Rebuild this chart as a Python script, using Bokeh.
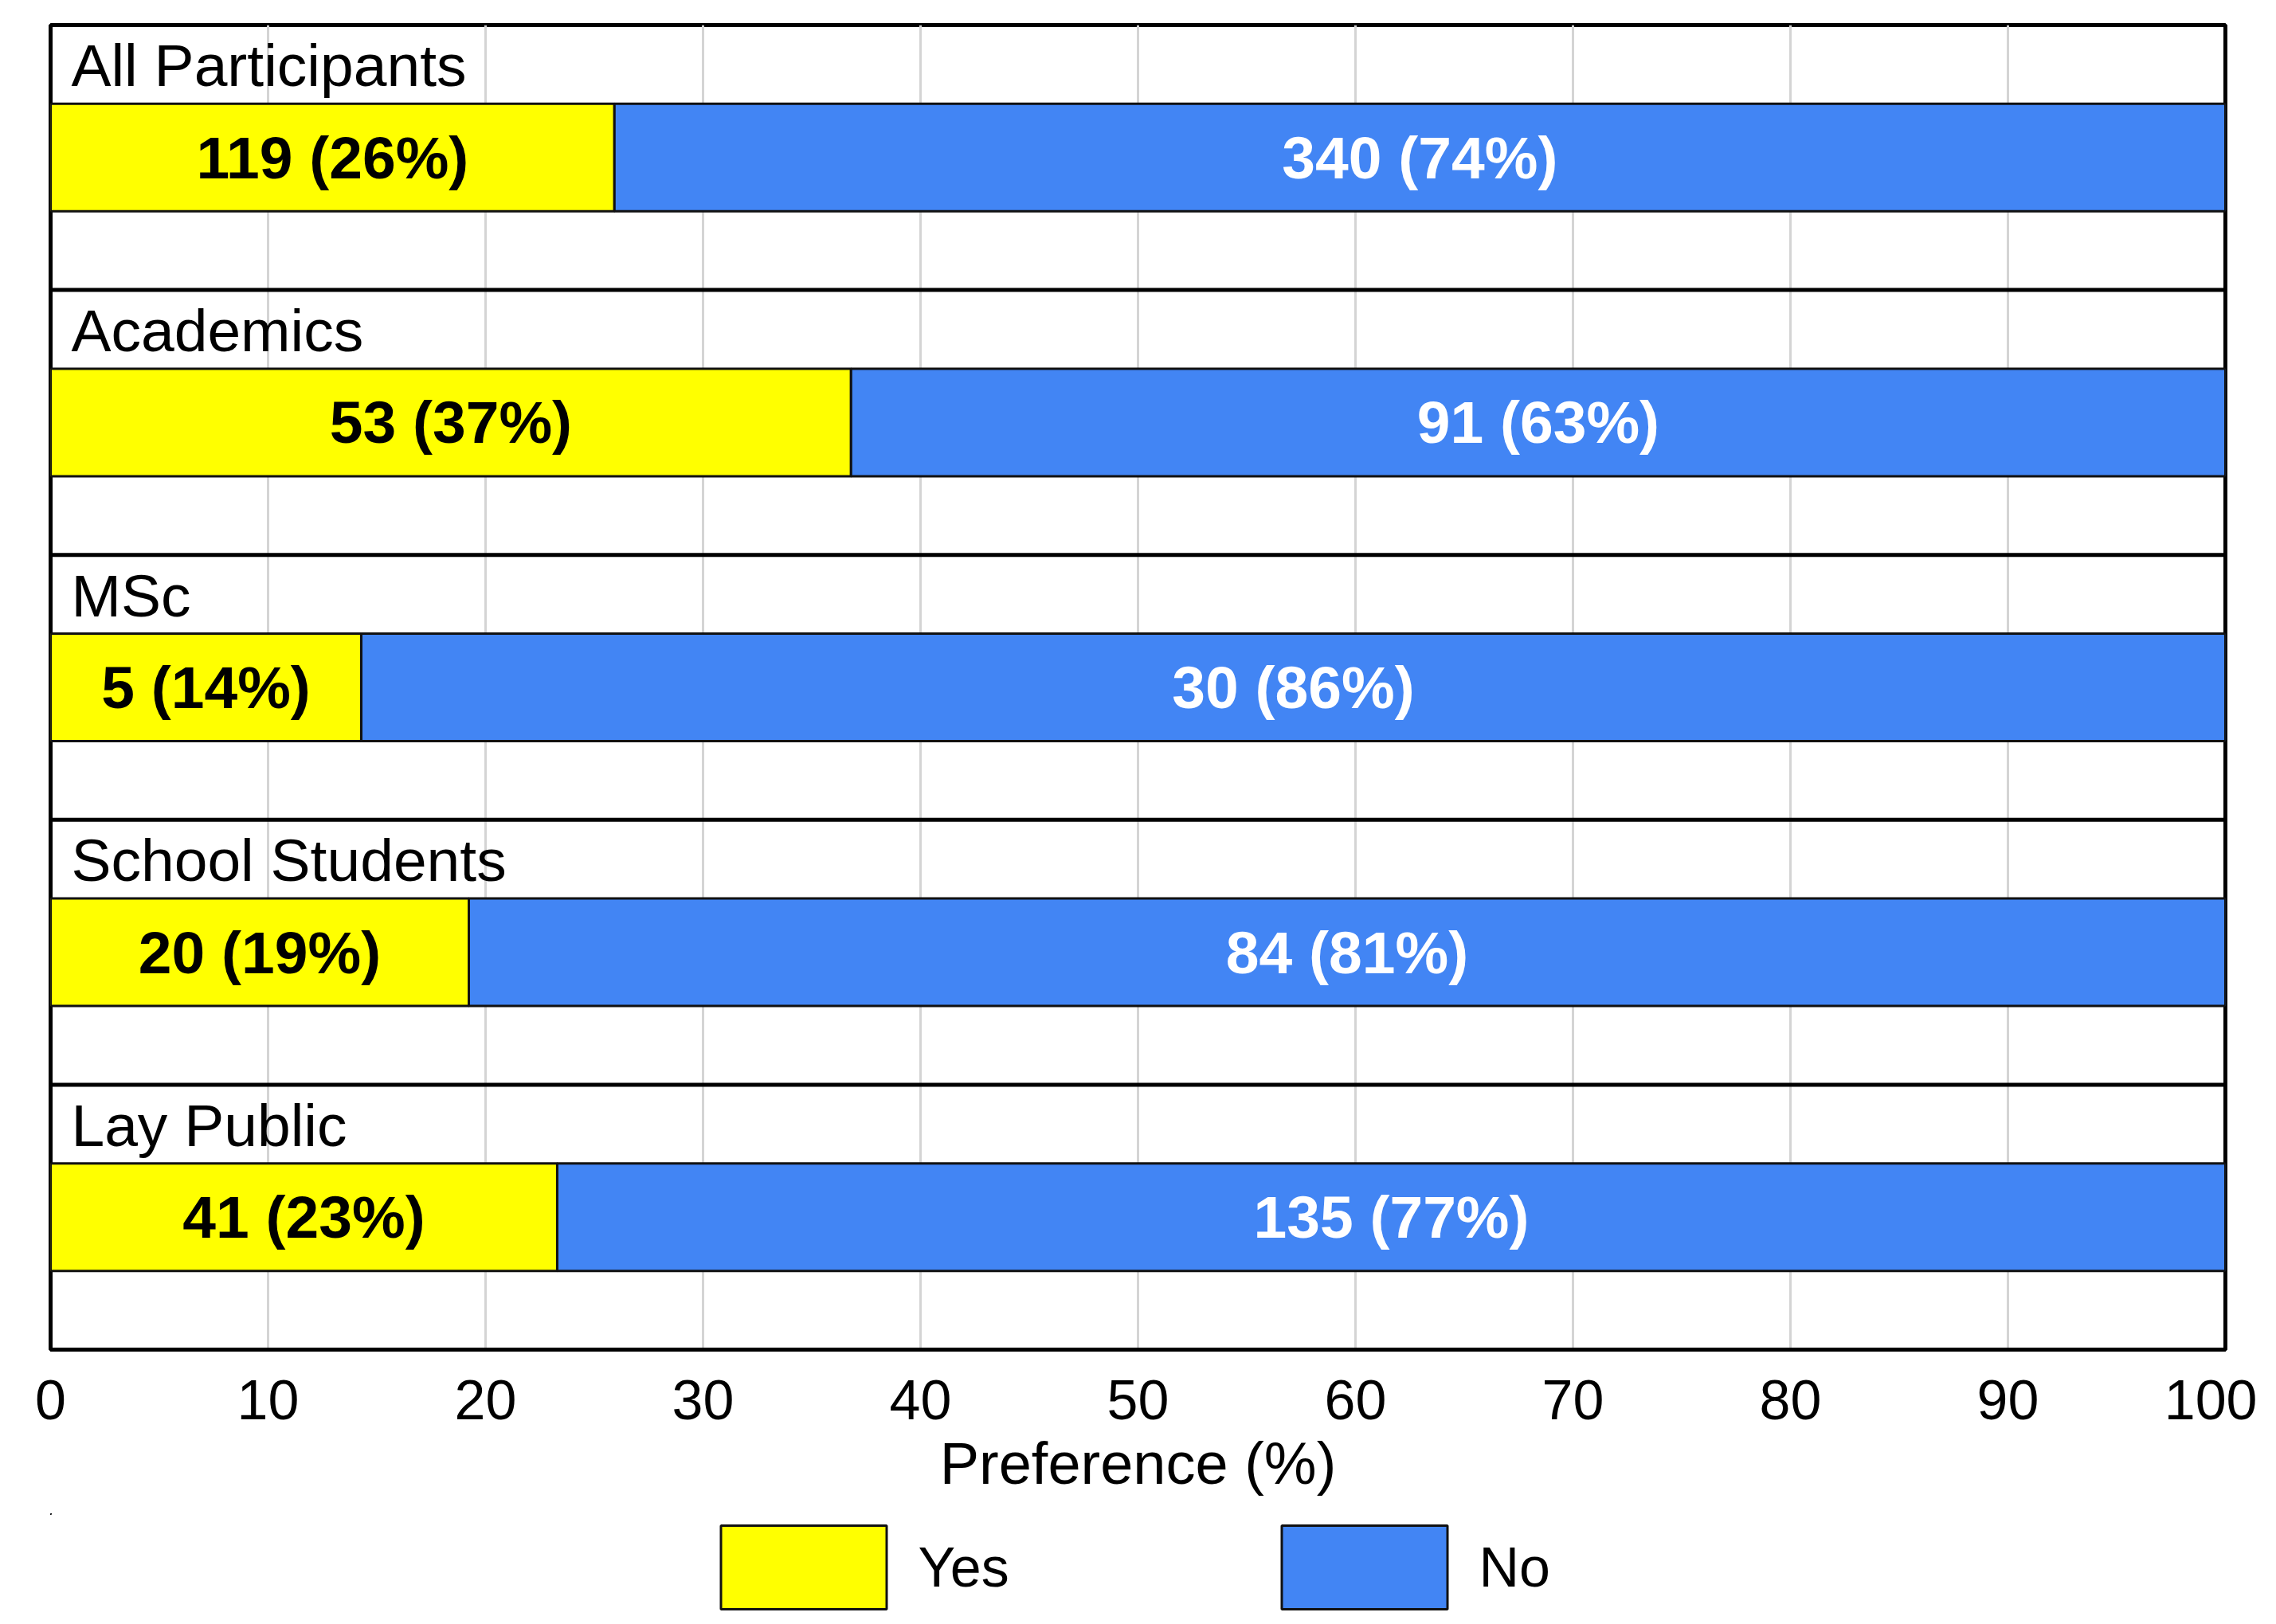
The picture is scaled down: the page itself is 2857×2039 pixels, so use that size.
from bokeh.plotting import figure
from bokeh.layouts import column
from bokeh.models import (ColumnDataSource, Range1d, FixedTicker, Span, Legend, LegendItem)
from bokeh.core.properties import value
from bokeh.embed import file_html
from bokeh.resources import INLINE

# ---- data (top panel first) ----
groups = ["All Participants", "Academics", "MSc", "School Students", "Lay Public"]
yes_counts = [119, 53, 5, 20, 41]
no_counts = [340, 91, 30, 84, 135]
x_ticks = [0, 10, 20, 30, 40, 50, 60, 70, 80, 90, 100]
x_title = "Preference (%)"
series_names = ["Yes", "No"]

# ---- derived ----
n = len(groups)
totals = [a + b for a, b in zip(yes_counts, no_counts)]
yes_pct = [100.0 * a / t for a, t in zip(yes_counts, totals)]
base = [n - 1 - i for i in range(n)]          # panel bottom in y units
ymid = [b + 0.5 for b in base]
ylab = [b + 0.847 for b in base]
yes_lbl = [f"{a} ({round(p)}%)" for a, p in zip(yes_counts, yes_pct)]
no_lbl = [f"{b} ({round(100 - p)}%)" for b, p in zip(no_counts, yes_pct)]

src = ColumnDataSource(dict(
    group=groups, ymid=ymid, ylab=ylab, yes=yes_pct, full=[100] * n,
    zero=[0] * n, yes_lbl=yes_lbl, no_lbl=no_lbl,
    yes_x=[p / 2 for p in yes_pct], no_x=[(p + 100) / 2 for p in yes_pct],
    lab_x=[0.95] * n,
))

FONT = "Liberation Sans"
YELLOW = "#FFFF00"
BLUE = "#4285F4"
EDGE = "#111111"

p = figure(width=2833, height=1900, output_backend="svg", toolbar_location=None,
           x_range=Range1d(0, 100), y_range=Range1d(0, n),
           min_border_left=63, min_border_right=40, min_border_top=31,
           min_border_bottom=206)
p.background_fill_color = "white"
p.border_fill_color = "white"
p.outline_line_color = "black"
p.outline_line_width = 5

# grid
p.xgrid.ticker = FixedTicker(ticks=x_ticks)
p.xgrid.grid_line_color = "#d4d4d4"
p.xgrid.grid_line_width = 3
p.ygrid.visible = False

# axes
p.yaxis.visible = False
ax = p.xaxis[0]
ax.ticker = FixedTicker(ticks=x_ticks)
ax.axis_label = x_title
ax.axis_line_color = "black"
ax.axis_line_width = 5
ax.major_tick_out = 0
ax.major_tick_in = 0
ax.minor_tick_out = 0
ax.minor_tick_in = 0
ax.major_label_standoff = 38
ax.major_label_text_font = FONT
ax.major_label_text_font_size = "70px"
ax.major_label_text_color = "black"
ax.axis_label_standoff = 11
ax.axis_label_text_font = FONT
ax.axis_label_text_font_size = "74px"
ax.axis_label_text_font_style = "normal"
ax.axis_label_text_color = "black"

# bars
p.hbar(y="ymid", left="zero", right="yes", height=0.406, source=src,
       fill_color=YELLOW, line_color=EDGE, line_width=3)
p.hbar(y="ymid", left="yes", right="full", height=0.406, source=src,
       fill_color=BLUE, line_color=EDGE, line_width=3)

# panel separators
for k in range(1, n):
    p.add_layout(Span(location=k, dimension="width", line_color="black", line_width=5))

# texts
p.text(x="lab_x", y="ylab", text="group", source=src, text_font=value(FONT),
       text_font_size=value("75px"), text_color="black", text_baseline="middle",
       text_align="left")
p.text(x="yes_x", y="ymid", text="yes_lbl", source=src, text_font=value(FONT),
       text_font_size=value("75px"), text_font_style="bold", text_color="black",
       text_baseline="middle", text_align="center")
p.text(x="no_x", y="ymid", text="no_lbl", source=src, text_font=value(FONT),
       text_font_size=value("75px"), text_font_style="bold", text_color="white",
       text_baseline="middle", text_align="center")

# ---- legend strip below the chart (its bars lie far outside its view) ----
lg = figure(width=2833, height=135, output_backend="svg", toolbar_location=None,
            x_axis_type=None, y_axis_type=None,
            x_range=Range1d(1000, 1100), y_range=Range1d(-1000, -990),
            min_border_left=63, min_border_right=40, min_border_top=0,
            min_border_bottom=0)
lg.outline_line_color = None
lg.background_fill_color = "white"
lg.border_fill_color = "white"
ly = lg.hbar(y="ymid", left="zero", right="yes", height=0.406, source=src,
             fill_color=YELLOW, line_color=EDGE, line_width=3)
ln = lg.hbar(y="ymid", left="yes", right="full", height=0.406, source=src,
             fill_color=BLUE, line_color=EDGE, line_width=3)
legend = Legend(items=[LegendItem(label=series_names[0], renderers=[ly]),
                       LegendItem(label=series_names[1], renderers=[ln])],
                orientation="horizontal", location="top_center",
                glyph_width=260, glyph_height=131, label_standoff=14,
                label_width=121, spacing=309, padding=0, margin=2,
                label_text_font=FONT, label_text_font_size="70px",
                label_text_color="black", label_text_baseline="middle",
                background_fill_alpha=0, border_line_alpha=0)
lg.add_layout(legend, "center")

layout = column(p, lg, spacing=0)
open("out.html", "w").write(file_html(layout, INLINE))
